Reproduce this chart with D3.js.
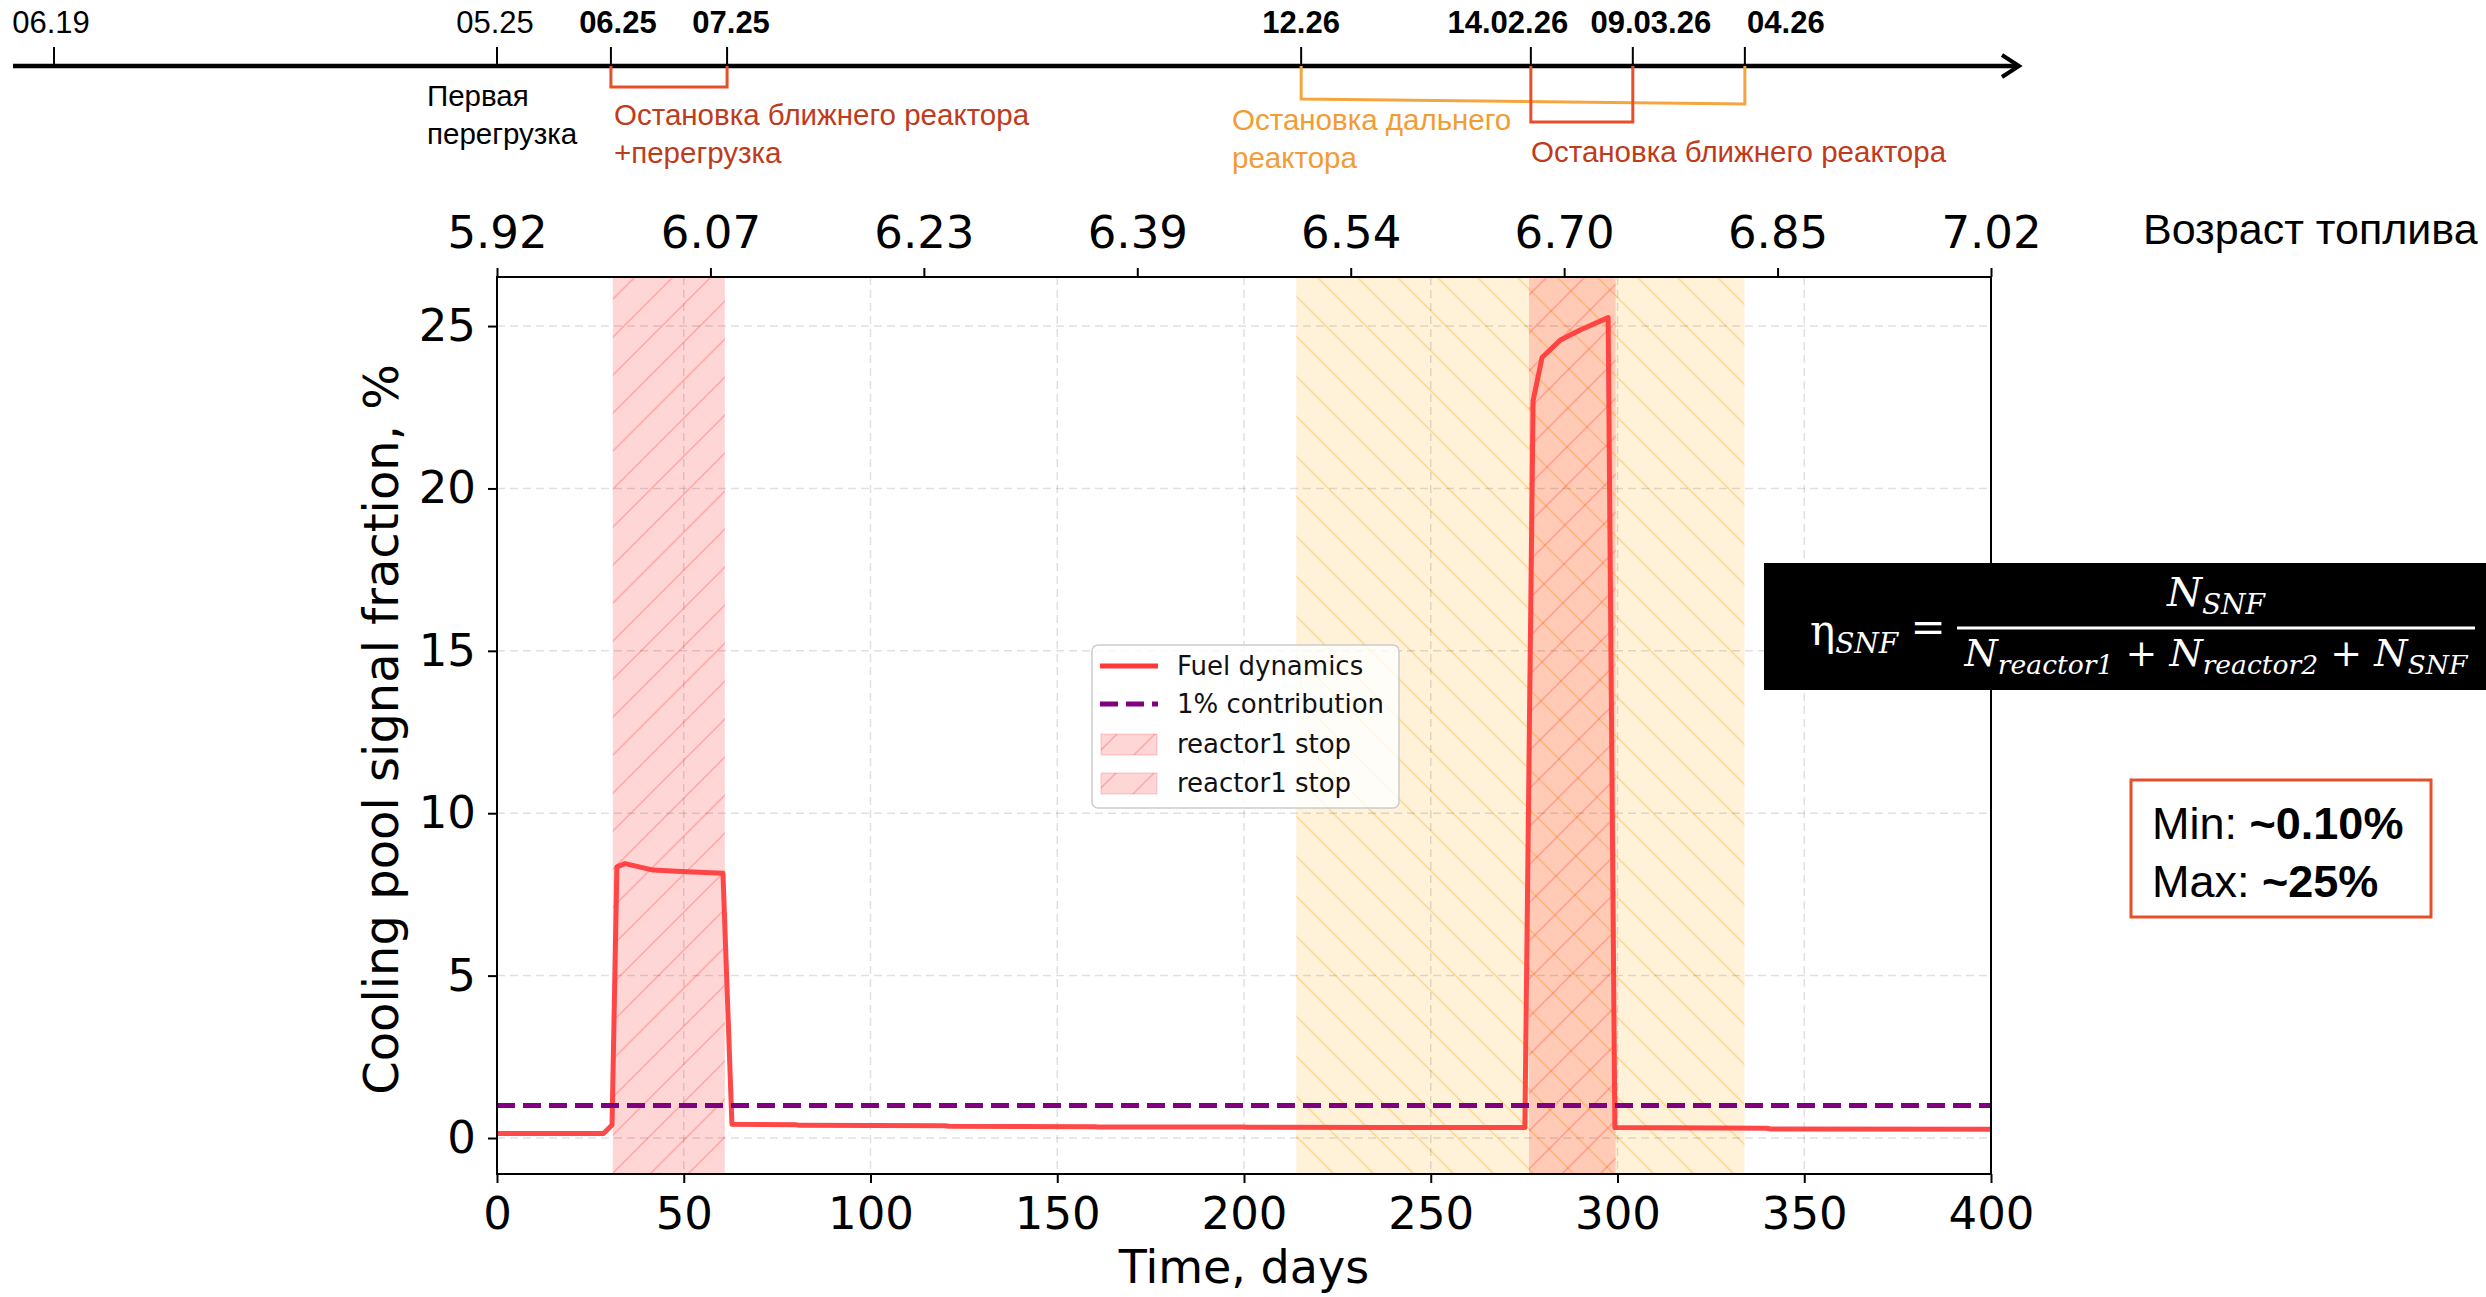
<!DOCTYPE html>
<html>
<head>
<meta charset="utf-8">
<script src="https://cdn.jsdelivr.net/npm/d3@7"></script>
<style>
  body { margin: 0; background: #fff; }
  svg { display: block; }
</style>
</head>
<body>
<div id="chart"></div>
<script>
// ---- data ----
const days = [0, 28.5, 30.8, 32.1, 34.3, 41.8, 50.8, 60.5, 62.9, 80, 81, 120, 121, 160, 161, 200, 201, 240, 275.2,
              277.4, 279.8, 284.6, 290, 297.5, 299.3, 340, 341, 400];
const fraction = [0.14, 0.14, 0.4, 8.35, 8.45, 8.25, 8.2, 8.15, 0.42, 0.41, 0.39, 0.38, 0.36, 0.35, 0.34, 0.34, 0.33, 0.32, 0.32,
                  22.7, 24.03, 24.56, 24.88, 25.26, 0.32, 0.3, 0.28, 0.27];
const threshold = 1; // 1% contribution

const xTicks = [0, 50, 100, 150, 200, 250, 300, 350, 400];
const yTicks = [0, 5, 10, 15, 20, 25];
const fuelAge = ["5.92", "6.07", "6.23", "6.39", "6.54", "6.70", "6.85", "7.02"];

const nearStops = [[31, 61], [276.3, 299.5]];   // reactor1 stop
const farStop = [214, 334];                        // far reactor stop

// timeline (schematic, aligned with the day axis)
const eventLabels = ["06.19", "05.25", "06.25", "07.25", "12.26", "14.02.26", "09.03.26", "04.26"];
const eventDays = [-118.6, 0, 30.5, 61.6, 215.3, 276.8, 304.1, 334.1];
const eventBold = [false, false, true, true, true, true, true, true];
const eventLabelDx = [-3, -2, 7, 4, 0, -23, 18, 41];

const legendLabels = ["Fuel dynamics", "1% contribution", "reactor1 stop", "reactor1 stop"];

// ---- layout ----
const W = 2486, H = 1297;
const pLeft = 497, pRight = 1991, pTop = 277, pBottom = 1174;

const svg = d3.select("#chart").append("svg")
  .attr("width", W).attr("height", H)
  .attr("viewBox", `0 0 ${W} ${H}`);

svg.append("rect").attr("width", W).attr("height", H).attr("fill", "#fff");

const x = d3.scaleLinear().domain([0, 400]).range([pLeft, pRight]);
const y = d3.scaleLinear().domain([-1.108, 26.51]).range([pBottom, pTop]);

// hatch patterns
const defs = svg.append("defs");
function hatch(id, color, forward, s) {
  const p = defs.append("pattern").attr("id", id)
    .attr("patternUnits", "userSpaceOnUse").attr("width", s).attr("height", s);
  const d = forward
    ? `M0,${s} L${s},0 M-6,6 L6,-6 M${s - 6},${s + 6} L${s + 6},${s - 6}`
    : `M0,0 L${s},${s} M-6,${s - 6} L6,${s + 6} M${s - 6},-6 L${s + 6},6`;
  p.append("path").attr("d", d).attr("stroke", color).attr("stroke-width", 1.6).attr("fill", "none");
}
hatch("hatchRed", "rgba(255,0,0,0.2)", true, 38);
hatch("hatchOrange", "rgba(255,165,0,0.32)", false, 40);

const plot = svg.append("g");

// bands
function band(g, d0, d1, fill, pat) {
  g.append("rect").attr("x", x(d0)).attr("y", pTop).attr("width", x(d1) - x(d0)).attr("height", pBottom - pTop)
    .attr("fill", fill);
  g.append("rect").attr("x", x(d0)).attr("y", pTop).attr("width", x(d1) - x(d0)).attr("height", pBottom - pTop)
    .attr("fill", `url(#${pat})`);
}
band(plot, farStop[0], farStop[1], "rgba(255,165,0,0.15)", "hatchOrange");
nearStops.forEach(s => band(plot, s[0], s[1], "rgba(255,0,0,0.16)", "hatchRed"));

// grid
plot.selectAll(".vgrid").data(xTicks.slice(1, -1)).enter().append("line")
  .attr("x1", d => x(d)).attr("x2", d => x(d)).attr("y1", pTop).attr("y2", pBottom)
  .attr("stroke", "#000").attr("stroke-opacity", 0.12).attr("stroke-width", 1.5).attr("stroke-dasharray", "8,5");
plot.selectAll(".hgrid").data(yTicks).enter().append("line")
  .attr("x1", pLeft).attr("x2", pRight).attr("y1", d => y(d)).attr("y2", d => y(d))
  .attr("stroke", "#000").attr("stroke-opacity", 0.12).attr("stroke-width", 1.5).attr("stroke-dasharray", "8,5");

// lines
const series = days.map((d, i) => [d, fraction[i]]);
plot.append("path").datum(series)
  .attr("d", d3.line().x(d => x(d[0])).y(d => y(d[1])))
  .attr("fill", "none").attr("stroke", "#ff3838").attr("stroke-opacity", 0.92).attr("stroke-width", 5)
  .attr("stroke-linejoin", "round");

plot.append("line")
  .attr("x1", x(0)).attr("x2", x(400)).attr("y1", y(threshold)).attr("y2", y(threshold))
  .attr("stroke", "#800080").attr("stroke-width", 5).attr("stroke-dasharray", "18,8");

// frame
svg.append("rect").attr("x", pLeft).attr("y", pTop).attr("width", pRight - pLeft).attr("height", pBottom - pTop)
  .attr("fill", "none").attr("stroke", "#000").attr("stroke-width", 2);

// axes
function styleAxis(g) {
  g.select(".domain").remove();
  g.selectAll(".tick line").attr("stroke", "#000").attr("stroke-width", 2);
  g.selectAll(".tick text").attr("font-family", "DejaVu Sans").attr("font-size", 45).attr("fill", "#000");
}
svg.append("g").attr("transform", `translate(0,${pBottom})`)
  .call(d3.axisBottom(x).tickValues(xTicks).tickSize(9).tickPadding(14).tickFormat(d3.format("d")))
  .call(styleAxis);
svg.append("g").attr("transform", `translate(${pLeft},0)`)
  .call(d3.axisLeft(y).tickValues(yTicks).tickSize(9).tickPadding(12).tickFormat(d3.format("d")))
  .call(styleAxis);
svg.append("g").attr("transform", `translate(0,${pTop})`)
  .call(d3.axisTop(x).tickValues(d3.range(fuelAge.length).map(i => i * 400 / (fuelAge.length - 1)))
    .tickSize(9).tickPadding(20).tickFormat((d, i) => fuelAge[i]))
  .call(styleAxis);

svg.append("text").attr("x", (pLeft + pRight) / 2).attr("y", 1283).attr("text-anchor", "middle")
  .attr("font-family", "DejaVu Sans").attr("font-size", 46).text("Time, days");
svg.append("text").attr("transform", `translate(398,${(pTop + pBottom) / 2 + 4}) rotate(-90)`).attr("text-anchor", "middle")
  .attr("font-family", "DejaVu Sans").attr("font-size", 48).text("Cooling pool signal fraction, %");
svg.append("text").attr("x", 2143).attr("y", 244)
  .attr("font-family", "Liberation Sans").attr("font-size", 43).text("Возраст топлива");

// legend
const lg = svg.append("g").attr("transform", "translate(1092,645)");
lg.append("rect").attr("width", 307).attr("height", 163).attr("rx", 6)
  .attr("fill", "#fff").attr("fill-opacity", 0.8).attr("stroke", "#ccc").attr("stroke-width", 1.5);
const rowY = [21, 59, 99, 138];
lg.append("line").attr("x1", 8).attr("x2", 66).attr("y1", rowY[0]).attr("y2", rowY[0])
  .attr("stroke", "#ff3838").attr("stroke-width", 5);
lg.append("line").attr("x1", 8).attr("x2", 66).attr("y1", rowY[1]).attr("y2", rowY[1])
  .attr("stroke", "#800080").attr("stroke-width", 5).attr("stroke-dasharray", "18,8");
[2, 3].forEach(i => {
  lg.append("rect").attr("x", 9).attr("y", rowY[i] - 10).attr("width", 56).attr("height", 21)
    .attr("fill", "rgba(255,0,0,0.16)").attr("stroke", "rgba(255,0,0,0.2)");
  lg.append("rect").attr("x", 9).attr("y", rowY[i] - 10).attr("width", 56).attr("height", 21)
    .attr("fill", "url(#hatchRed)");
});
lg.selectAll(".lt").data(legendLabels).enter().append("text")
  .attr("x", 85).attr("y", (d, i) => rowY[i]).attr("dy", "0.35em")
  .attr("font-family", "DejaVu Sans").attr("font-size", 26).attr("fill", "#111").text(d => d);

// timeline
const tl = svg.append("g");
const tlY = 66;
tl.append("line").attr("x1", 13).attr("x2", 2017).attr("y1", tlY).attr("y2", tlY)
  .attr("stroke", "#000").attr("stroke-width", 4.5);
tl.append("path").attr("d", `M2002,55 L2019,${tlY} L2002,77`).attr("fill", "none")
  .attr("stroke", "#000").attr("stroke-width", 4);

const redC = "#e5502a", orangeC = "#f5a540";
// brackets
tl.append("path").attr("d", `M${x(eventDays[4])},${tlY} V99 L${x(eventDays[7])},104 V${tlY}`)
  .attr("fill", "none").attr("stroke", orangeC).attr("stroke-width", 3);
tl.append("path").attr("d", `M${x(eventDays[2])},${tlY} V87 H${x(eventDays[3])} V${tlY}`)
  .attr("fill", "none").attr("stroke", redC).attr("stroke-width", 3);
tl.append("path").attr("d", `M${x(eventDays[5])},${tlY} V122 H${x(eventDays[6])} V${tlY}`)
  .attr("fill", "none").attr("stroke", redC).attr("stroke-width", 3);

tl.selectAll(".etick").data(eventDays).enter().append("line")
  .attr("x1", d => x(d)).attr("x2", d => x(d)).attr("y1", 47).attr("y2", tlY)
  .attr("stroke", "#000").attr("stroke-width", 2);
tl.selectAll(".elab").data(eventLabels).enter().append("text")
  .attr("x", (d, i) => x(eventDays[i]) + eventLabelDx[i]).attr("y", 33).attr("text-anchor", "middle")
  .attr("font-family", "Liberation Sans").attr("font-size", 31)
  .attr("font-weight", (d, i) => eventBold[i] ? "bold" : "normal").text(d => d);

function note(lines, x0, y0, color, gap) {
  const t = tl.append("text").attr("font-family", "Liberation Sans").attr("font-size", 29.5).attr("fill", color);
  lines.forEach((s, i) => t.append("tspan").attr("x", x0).attr("y", y0 + i * gap).text(s));
}
note(["Первая", "перегрузка"], 427, 106, "#000", 38);
note(["Остановка ближнего реактора", "+перегрузка"], 614, 125, "#c03a1c", 38);
note(["Остановка дальнего", "реактора"], 1232, 130, "#f39c34", 38);
note(["Остановка ближнего реактора"], 1531, 162, "#c03a1c", 38);

// formula box
const fb = svg.append("g");
fb.append("rect").attr("x", 1764).attr("y", 563).attr("width", W - 1764).attr("height", 127).attr("fill", "#000");
const serif = "DejaVu Serif";
const eta = fb.append("text").attr("x", 1810).attr("y", 645).attr("fill", "#fff").attr("font-family", serif).attr("font-size", 42);
eta.append("tspan").text("η");
eta.append("tspan").attr("font-style", "italic").attr("font-size", 28).attr("dy", 8).text("SNF");
fb.append("text").attr("x", 1928).attr("y", 642).attr("text-anchor", "middle").attr("fill", "#fff")
  .attr("font-family", serif).attr("font-size", 42).text("=");
fb.append("line").attr("x1", 1957).attr("x2", 2475).attr("y1", 628).attr("y2", 628).attr("stroke", "#fff").attr("stroke-width", 3);
function term(t, main, sub, first, fs) {
  t.append("tspan").attr("font-size", fs).attr("dy", first ? 0 : -8).text(main);
  t.append("tspan").attr("font-size", fs * 0.7).attr("dy", 8).text(sub);
}
const num = fb.append("text").attr("x", 2216).attr("y", 606).attr("text-anchor", "middle").attr("fill", "#fff")
  .attr("font-family", serif).attr("font-style", "italic");
term(num, "N", "SNF", true, 40);
const den = fb.append("text").attr("x", 2216).attr("y", 666).attr("text-anchor", "middle").attr("fill", "#fff")
  .attr("font-family", serif).attr("font-style", "italic");
term(den, "N", "reactor1", true, 38);
term(den, " + N", "reactor2", false, 38);
term(den, " + N", "SNF", false, 38);

// min / max box
const mb = svg.append("g");
mb.append("rect").attr("x", 2131).attr("y", 780).attr("width", 300).attr("height", 137)
  .attr("fill", "#fff").attr("stroke", "#e5502a").attr("stroke-width", 3);
const mm = [["Min: ", "~0.10%"], ["Max: ", "~25%"]];
mm.forEach((r, i) => {
  const t = mb.append("text").attr("x", 2152).attr("y", 839 + i * 58)
    .attr("font-family", "Liberation Sans").attr("font-size", 45);
  t.append("tspan").text(r[0]);
  t.append("tspan").attr("font-weight", "bold").text(r[1]);
});
</script>
</body>
</html>
